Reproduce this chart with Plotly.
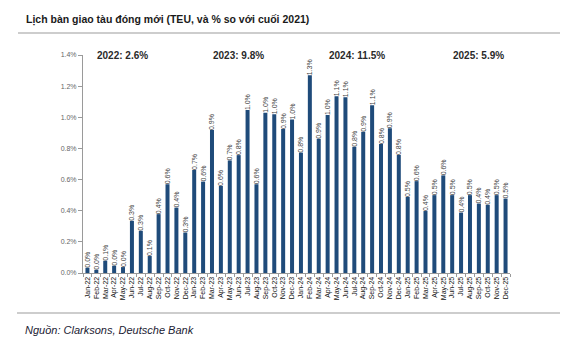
import plotly.graph_objects as go

# Monthly newbuild deliveries, % of fleet capacity at end-2021
months = [
    "Jan-22", "Feb-22", "Mar-22", "Apr-22", "May-22", "Jun-22", "Jul-22", "Aug-22", "Sep-22", "Oct-22", "Nov-22", "Dec-22",
    "Jan-23", "Feb-23", "Mar-23", "Apr-23", "May-23", "Jun-23", "Jul-23", "Aug-23", "Sep-23", "Oct-23", "Nov-23", "Dec-23",
    "Jan-24", "Feb-24", "Mar-24", "Apr-24", "May-24", "Jun-24", "Jul-24", "Aug-24", "Sep-24", "Oct-24", "Nov-24", "Dec-24",
    "Jan-25", "Feb-25", "Mar-25", "Apr-25", "May-25", "Jun-25", "Jul-25", "Aug-25", "Sep-25", "Oct-25", "Nov-25", "Dec-25",
]
deliveries_2022 = [0.034, 0.021, 0.079, 0.047, 0.038, 0.335, 0.271, 0.109, 0.378, 0.570, 0.420, 0.260]
deliveries_2023 = [0.662, 0.587, 0.918, 0.559, 0.723, 0.757, 1.046, 0.570, 1.029, 1.020, 0.924, 0.986]
deliveries_2024 = [0.773, 1.270, 0.862, 1.014, 1.135, 1.129, 0.811, 0.907, 1.078, 0.828, 0.930, 0.758]
deliveries_2025 = [0.488, 0.590, 0.398, 0.500, 0.627, 0.500, 0.388, 0.500, 0.446, 0.438, 0.500, 0.478]
years = ["2022", "2023", "2024", "2025"]
year_series = [deliveries_2022, deliveries_2023, deliveries_2024, deliveries_2025]
year_label_month = ["Feb-22", "Mar-23", "Apr-24", "Jun-25"]

y_tick_values = [0.0, 0.2, 0.4, 0.6, 0.8, 1.0, 1.2, 1.4]
y_tick_labels = ["0.0%", "0.2%", "0.4%", "0.6%", "0.8%", "1.0%", "1.2%", "1.4%"]

values = deliveries_2022 + deliveries_2023 + deliveries_2024 + deliveries_2025

W, H = 568, 347
ML, MR, MT, MB = 83, 58, 55, 74
PW, PH = W - ML - MR, H - MT - MB


def px_x(x):
    return (x - ML) / PW


def px_y(y):
    return (H - MB - y) / PH


BAR = "#1f4b7a"
TEXT_FONT = "Liberation Sans, Arial, sans-serif"

fig = go.Figure(
    go.Bar(
        x=months,
        y=values,
        marker_color=BAR,
        marker_line_width=0,
        texttemplate="%{y:.1f}%",
        textposition="outside",
        textangle=-90,
        constraintext="none",
        cliponaxis=False,
        textfont=dict(family=TEXT_FONT, size=7, color="#444444"),
        hovertemplate="%{x}: %{y:.2f}%<extra></extra>",
    )
)

annotations = [
    dict(
        text="Lịch bàn giao tàu đóng mới (TEU, và % so với cuối 2021)",
        xref="paper", yref="paper", x=px_x(24), y=px_y(19),
        xanchor="left", yanchor="middle", showarrow=False,
        font=dict(family=TEXT_FONT, size=10.5, color="#1a1a1a", weight="bold"),
    ),
    dict(
        text="<i>Nguồn: Clarksons, Deutsche Bank</i>",
        xref="paper", yref="paper", x=px_x(23), y=px_y(330),
        xanchor="left", yanchor="middle", showarrow=False,
        font=dict(family=TEXT_FONT, size=11, color="#1b1b33"),
    ),
]
for yr, series, anchor in zip(years, year_series, year_label_month):
    annotations.append(
        dict(
            text=f"{yr}: {sum(series):.1f}%",
            xref="x", yref="paper", x=anchor, y=1.0,
            xanchor="left", yanchor="middle", xshift=-1, showarrow=False,
            font=dict(family=TEXT_FONT, size=10, color="#2a2a2a", weight="bold"),
        )
    )

rule = dict(type="line", xref="paper", yref="paper", line=dict(color="#bdbdbd", width=1.5))
shapes = [
    dict(rule, x0=px_x(18), x1=px_x(560), y0=px_y(33), y1=px_y(33)),
    dict(rule, x0=px_x(17), x1=px_x(560), y0=px_y(313), y1=px_y(313)),
]

fig.update_layout(
    width=W,
    height=H,
    margin=dict(l=ML, r=MR, t=MT, b=MB, pad=0),
    paper_bgcolor="white",
    plot_bgcolor="white",
    showlegend=False,
    bargap=0.55,
    annotations=annotations,
    shapes=shapes,
    xaxis=dict(
        type="category",
        tickmode="array",
        tickvals=months,
        ticktext=months,
        tickangle=-90,
        tickfont=dict(family=TEXT_FONT, size=7, color="#111111"),
        showline=True,
        linecolor="#9a9a9a",
        linewidth=1,
        ticks="outside",
        tickson="boundaries",
        ticklen=3,
        tickcolor="#9a9a9a",
        showgrid=False,
        range=[-0.5, len(months) - 0.5],
    ),
    yaxis=dict(
        range=[0, 1.4],
        tickmode="array",
        tickvals=y_tick_values,
        ticktext=y_tick_labels,
        tickfont=dict(family=TEXT_FONT, size=7, color="#666666"),
        showline=True,
        linecolor="#9a9a9a",
        linewidth=1,
        ticks="outside",
        ticklen=4,
        tickcolor="#9a9a9a",
        showgrid=False,
        zeroline=False,
    ),
)

fig.write_html("out.html")
